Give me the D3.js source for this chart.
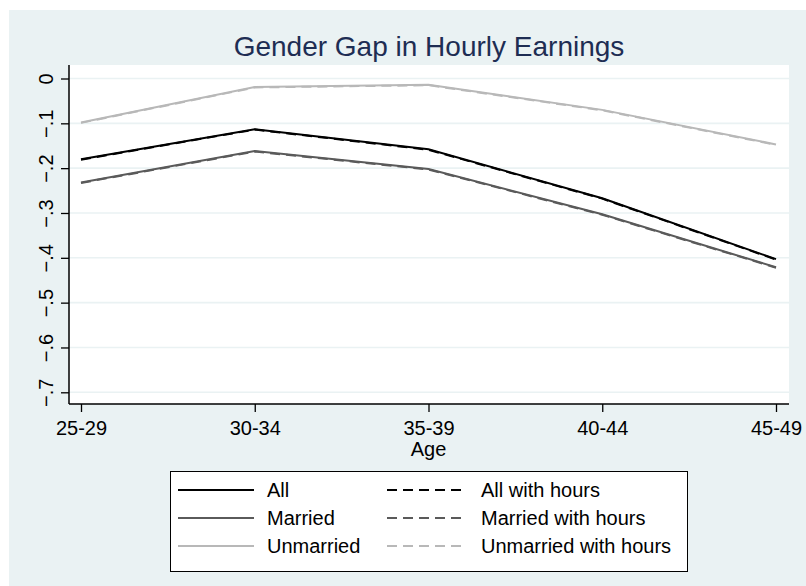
<!DOCTYPE html>
<html>
<head>
<meta charset="utf-8">
<script src="https://cdn.jsdelivr.net/npm/d3@7"></script>
<style>
  body { margin: 0; background: #fff; }
  text { font-family: "Liberation Sans", Arial, sans-serif; fill: #000; }
</style>
</head>
<body>
<div id="chart"></div>
<script>
// data
var ages = ["25-29", "30-34", "35-39", "40-44", "45-49"];
var yTicks = [0, -0.1, -0.2, -0.3, -0.4, -0.5, -0.6, -0.7];

var allGap       = [-0.180, -0.113, -0.158, -0.267, -0.403];
var marriedGap   = [-0.232, -0.162, -0.202, -0.303, -0.421];
var unmarriedGap = [-0.098, -0.019, -0.014, -0.070, -0.147];
var allHours       = [-0.181, -0.114, -0.159, -0.268, -0.404];
var marriedHours   = [-0.233, -0.163, -0.203, -0.304, -0.422];
var unmarriedHours = [-0.099, -0.020, -0.015, -0.071, -0.148];

var series = [
    {name: "All", values: allGap, color: "#000000", dash: null},
    {name: "Married", values: marriedGap, color: "#5a5a5a", dash: null},
    {name: "Unmarried", values: unmarriedGap, color: "#b8b8b8", dash: null},
    {name: "All with hours", values: allHours, color: "#000000", dash: "10,6"},
    {name: "Married with hours", values: marriedHours, color: "#5a5a5a", dash: "10,6"},
    {name: "Unmarried with hours", values: unmarriedHours, color: "#b8b8b8", dash: "10,6"}
];

var width = 806, height = 586;
var bg = "#eaf2f3";
var plot = {left: 69, right: 789, top: 65, bottom: 404};

var svg = d3.select("#chart")
    .append("svg")
        .attr("width", width)
        .attr("height", height);

// outer graph region
svg.append("rect")
    .attr("x", 9).attr("y", 10)
    .attr("width", width - 9).attr("height", height - 10)
    .attr("fill", bg);

// plot region
svg.append("rect")
    .attr("x", plot.left).attr("y", plot.top)
    .attr("width", plot.right - plot.left).attr("height", plot.bottom - plot.top)
    .attr("fill", "#fff");

var x = d3.scalePoint()
    .domain(ages)
    .range([81, 776]);

var y = d3.scaleLinear()
    .domain([-0.7, 0])
    .range([392.3, 78.5]);

var fmt = function(d) { return d === 0 ? "0" : d3.format(".1f")(d).replace("0.", "."); };

// grid lines
svg.append("g")
    .selectAll("line")
    .data(yTicks)
    .enter().append("line")
        .attr("x1", plot.left).attr("x2", plot.right)
        .attr("y1", function(d) { return y(d); })
        .attr("y2", function(d) { return y(d); })
        .attr("stroke", bg)
        .attr("stroke-width", 1.6);

// y axis
var yaxis = svg.append("g")
    .attr("transform", "translate(" + plot.left + ",0)")
    .call(d3.axisLeft(y).tickValues(yTicks).tickSize(8).tickSizeOuter(0).tickFormat(fmt));
yaxis.select(".domain").remove();
yaxis.append("line")
    .attr("x1", 0).attr("x2", 0)
    .attr("y1", plot.top).attr("y2", plot.bottom)
    .attr("stroke", "#000").attr("stroke-width", 1.5);
yaxis.selectAll(".tick line").attr("stroke", "#000").attr("stroke-width", 1.3);
yaxis.selectAll(".tick text")
    .attr("x", 0).attr("y", 0)
    .attr("dy", 0)
    .attr("transform", "translate(-16,0) rotate(-90)")
    .style("text-anchor", "middle")
    .style("font-size", "20px")
    .style("font-family", "Liberation Sans, Arial, sans-serif");

// x axis
var xaxis = svg.append("g")
    .attr("transform", "translate(0," + plot.bottom + ")")
    .call(d3.axisBottom(x).tickSize(8).tickSizeOuter(0));
xaxis.select(".domain").remove();
xaxis.append("line")
    .attr("x1", plot.left).attr("x2", plot.right)
    .attr("y1", 0).attr("y2", 0)
    .attr("stroke", "#000").attr("stroke-width", 1.5);
xaxis.selectAll(".tick line").attr("stroke", "#000").attr("stroke-width", 1.3);
xaxis.selectAll(".tick text")
    .attr("y", 31).attr("dy", 0)
    .style("font-size", "20px")
    .style("font-family", "Liberation Sans, Arial, sans-serif");

// axis title
svg.append("text")
    .attr("x", (x("25-29") + x("45-49")) / 2)
    .attr("y", 456)
    .attr("text-anchor", "middle")
    .style("font-size", "20px")
    .text("Age");

// title
svg.append("text")
    .attr("x", 429)
    .attr("y", 56)
    .attr("text-anchor", "middle")
    .style("font-size", "28px")
    .style("fill", "#1e2d53")
    .text("Gender Gap in Hourly Earnings");

// lines
var line = d3.line()
    .x(function(d, i) { return x(ages[i]); })
    .y(function(d) { return y(d); });

svg.append("g")
    .selectAll("path")
    .data(series)
    .enter().append("path")
        .attr("d", function(d) { return line(d.values); })
        .attr("fill", "none")
        .attr("stroke", function(d) { return d.color; })
        .attr("stroke-width", 2)
        .attr("stroke-dasharray", function(d) { return d.dash; });

// legend
var legend = svg.append("g");
legend.append("rect")
    .attr("x", 170.5).attr("y", 471.5)
    .attr("width", 517).attr("height", 100)
    .attr("fill", "#fff")
    .attr("stroke", "#000")
    .attr("stroke-width", 1);

var rowY = [490, 518, 546];
var item = legend.selectAll(".item")
    .data(series)
    .enter().append("g")
        .attr("class", "item")
        .attr("transform", function(d, i) {
            var col = i < 3 ? 0 : 1;
            return "translate(" + (col === 0 ? 178 : 387) + "," + rowY[i % 3] + ")";
        });
item.append("line")
    .attr("x1", 0).attr("x2", 76)
    .attr("y1", 0).attr("y2", 0)
    .attr("stroke", function(d) { return d.color; })
    .attr("stroke-width", 2)
    .attr("stroke-dasharray", function(d) { return d.dash; });
item.append("text")
    .attr("x", function(d, i) { return i < 3 ? 89 : 94; })
    .attr("y", 7)
    .style("font-size", "20px")
    .text(function(d) { return d.name; });
</script>
</body>
</html>
